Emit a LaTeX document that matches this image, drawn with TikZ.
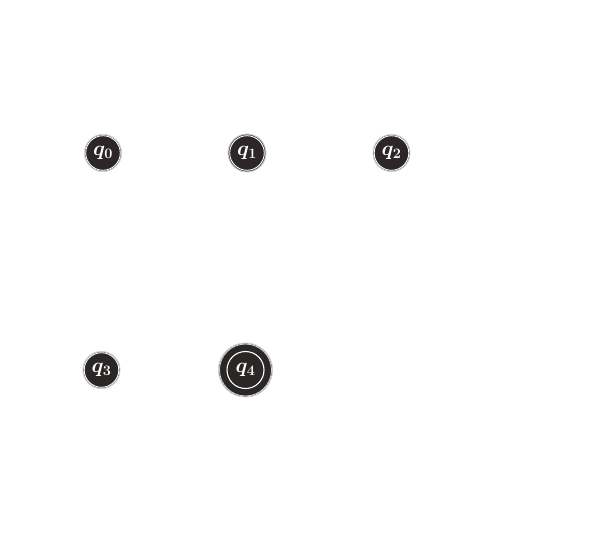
\documentclass[tikz,border=0pt]{standalone}
\definecolor{statefill}{HTML}{2B2727}
\definecolor{ringgray}{HTML}{D0D0D0}
\begin{document}
\begin{tikzpicture}[x=1pt,y=-1pt,
  statebox/.style={circle,fill=statefill,draw=ringgray,line width=1pt,
    minimum size=37pt,inner sep=0pt,text=white,font=\fontsize{21}{24}\selectfont\boldmath,
    path picture={\draw[white,line width=0.9pt] (path picture bounding box.center) circle (17.3pt);}},
  acceptbox/.style={circle,fill=statefill,draw=ringgray,line width=1pt,
    minimum size=54pt,inner sep=0pt,text=white,font=\fontsize{21}{24}\selectfont\boldmath,
    path picture={\draw[white!85!black,line width=0.8pt] (path picture bounding box.center) circle (26pt);
                  \draw[white,line width=1.1pt] (path picture bounding box.center) circle (18.5pt);}}]
\useasboundingbox (0,0) rectangle (616,538);
\node[statebox] (q0) at (103,153) {$q_0$};
\node[statebox,minimum size=38pt] (q1) at (247,153) {$q_1$};
\node[statebox] (q2) at (391.5,153) {$q_2$};
\node[statebox] (q3) at (101.5,370) {$q_3$};
\node[acceptbox] (q4) at (245.5,370) {$q_4$};
\end{tikzpicture}
\end{document}
